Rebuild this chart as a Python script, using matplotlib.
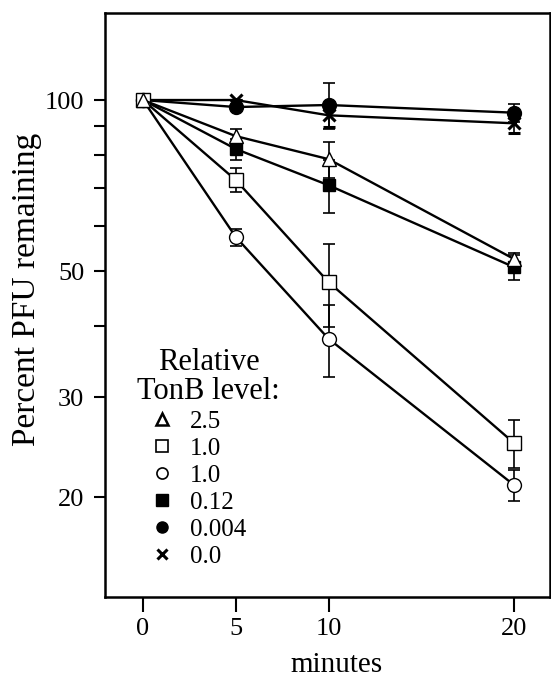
import numpy as np
import matplotlib
matplotlib.use('Agg')
import matplotlib.pyplot as plt
from matplotlib.lines import Line2D
from matplotlib.ticker import FixedLocator, FixedFormatter, NullFormatter

plt.rcParams['font.family'] = ['Liberation Serif', 'DejaVu Serif']

# time points (minutes)
minutes = [0, 5, 10, 20]

# percent PFU remaining for each relative TonB level
tonb_25 = [100, 86.4, 78.7, 52.5]
tonb_10a = [100, 72.3, 47.8, 24.9]
tonb_10b = [100, 57.4, 38.0, 21.0]
tonb_012 = [100, 82.0, 70.8, 50.8]
tonb_0004 = [100, 97.2, 98.0, 95.0]
tonb_00 = [100, 100.0, 94.0, 91.0]

# error bars
err_25 = [0, 2.5, 5.7, 1.3]
err_10a = [0, 3.5, 8.0, 2.4]
err_10b = [0, 2.0, 5.5, 1.3]
err_012 = [0, 3.5, 7.5, 2.6]
err_0004 = [0, 0, 9.0, 3.5]
err_00 = [0, 0, 4.5, 3.5]

labels = ['2.5', '1.0', '1.0', '0.12', '0.004', '0.0']
yticks_major = [20, 30, 50, 100]
yticks_minor = [40, 60, 70, 80, 90]

fig = plt.figure(figsize=(5.51, 6.79), dpi=100)
ax = fig.add_axes([105/551, 1-597/679, 445/551, 584/679])

series = [
    (tonb_00, err_00, dict(marker='x', mfc='k', ms=9, mew=2.2)),
    (tonb_0004, err_0004, dict(marker='o', mfc='k', ms=10)),
    (tonb_012, err_012, dict(marker='s', mfc='k', ms=9)),
    (tonb_10b, err_10b, dict(marker='o', mfc='white', ms=10)),
    (tonb_10a, err_10a, dict(marker='s', mfc='white', ms=10)),
    (tonb_25, err_25, dict(marker='^', mfc='white', ms=10)),
]
for vals, err, st in series:
    ax.errorbar(minutes, vals, yerr=err, color='k', lw=1.7, elinewidth=1.2,
                capsize=4, capthick=1.2, mec='k', **st)

ax.set_yscale('log')
ax.set_ylim(13.34, 142.3)
ax.set_xlim(-2.05, 21.94)

ax.yaxis.set_major_locator(FixedLocator(yticks_major))
ax.yaxis.set_minor_locator(FixedLocator(yticks_minor))
ax.yaxis.set_major_formatter(FixedFormatter([str(t) for t in yticks_major]))
ax.yaxis.set_minor_formatter(NullFormatter())
ax.set_xticks(minutes)
ax.set_xticklabels([str(m) for m in minutes])

ax.tick_params(axis='y', which='both', direction='out', length=8, width=1.5,
               labelsize=19, pad=7)
ax.tick_params(axis='x', which='both', direction='out', length=11, width=1.5,
               labelsize=19, pad=4)
for sp in ax.spines.values():
    sp.set_linewidth(1.8)

ax.set_ylabel('Percent PFU remaining', fontsize=24, ha='center', va='center')
ax.yaxis.set_label_coords(-0.175, 0.526)
ax.set_xlabel('minutes', fontsize=21, va='baseline')
ax.xaxis.set_label_coords(0.521, -0.128)

handles = [
    Line2D([], [], ls='none', marker='^', mfc='white', mec='k', ms=8, mew=1.8),
    Line2D([], [], ls='none', marker='s', mfc='white', mec='k', ms=8, mew=1.2),
    Line2D([], [], ls='none', marker='o', mfc='white', mec='k', ms=8, mew=1.2),
    Line2D([], [], ls='none', marker='s', mfc='k', mec='k', ms=8),
    Line2D([], [], ls='none', marker='o', mfc='k', mec='k', ms=8),
    Line2D([], [], ls='none', marker='x', color='k', ms=7, mew=2.2),
]
leg = ax.legend(handles, labels, title='Relative\nTonB level:', loc='upper left',
                bbox_to_anchor=(0.072, 0.426), frameon=False, fontsize=18,
                title_fontsize=22, labelspacing=0.18, handlelength=2.0,
                handletextpad=0.1, borderpad=0, borderaxespad=0,
                alignment='left')
leg.get_title().set_linespacing(1.0)
leg.get_title().set_multialignment('center')

fig.savefig('out.png', dpi=100)
